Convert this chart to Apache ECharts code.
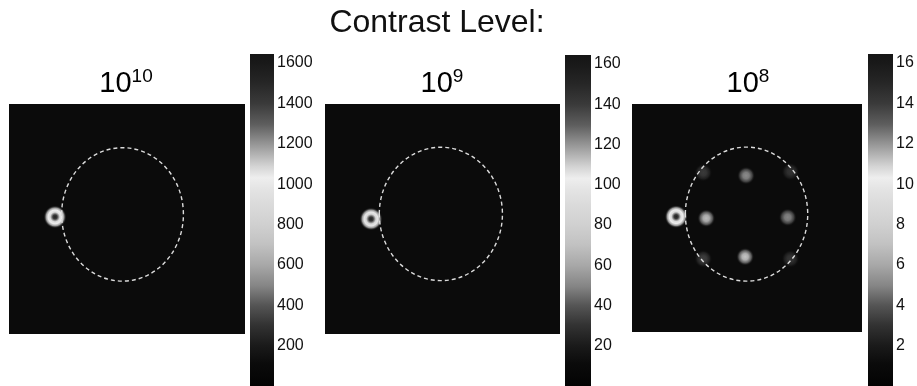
<!DOCTYPE html>
<html><head><meta charset="utf-8">
<script src="https://cdn.jsdelivr.net/npm/echarts@6/dist/echarts.min.js"></script>
<style>html,body{margin:0;padding:0;background:#fff}#c{width:917px;height:386px}</style>
</head><body><div id="c"></div>
<script>
// ---------- data ----------
const mainTitle = 'Contrast Level:';
const panelBase = '10';
const panelExponents = ['10', '9', '8'];
const cbTicks1 = [200, 400, 600, 800, 1000, 1200, 1400, 1600];
const cbTicks2 = [20, 40, 60, 80, 100, 120, 140, 160];
const cbTicks3 = [2, 4, 6, 8, 10, 12, 14, 16];
const cbMax = [1645, 164.5, 16.45];
// dashed circle: [cx, cy, rx, ry] in image units (0..100, y downwards)
const circle1 = [48.1, 48.0, 25.8, 29.0];
const circle2 = [49.3, 47.8, 26.2, 29.0];
const circle3 = [49.8, 48.3, 26.6, 29.4];
// ring-shaped source: [x, y, brightness]
const ring1 = [19.5, 49.1, 1.0];
const ring2 = [19.6, 50.0, 0.97];
const ring3 = [19.2, 49.4, 1.0];
// speckles visible in the 10^8 panel: [x, y, brightness]
const blobs3 = [
  [49.6, 31.4, 0.55], [49.2, 67.0, 0.80], [32.3, 50.1, 0.76], [67.7, 49.7, 0.52],
  [31.0, 30.1, 0.20], [68.9, 29.7, 0.17], [31.0, 67.9, 0.22], [68.9, 67.9, 0.18]
];

// ---------- styles / layout ----------
const FONT = 'Liberation Sans, Arial, sans-serif';
const BG = '#0b0b0b';
// grey colormap of the colorbars (fraction of top tick -> grey)
const cmap = [
  [0.00, '#030303'], [0.07, '#0b0b0b'], [0.125, '#1a1a1a'], [0.19, '#333333'],
  [0.25, '#555555'], [0.31, '#858585'], [0.375, '#a8a8a8'], [0.44, '#c2c2c2'],
  [0.50, '#d0d0d0'], [0.56, '#dadada'], [0.61, '#e4e4e4'], [0.645, '#eeeeee'],
  [0.68, '#d4d4d4'], [0.72, '#b0b0b0'], [0.76, '#8c8c8c'], [0.81, '#5e5e5e'],
  [0.875, '#3a3a3a'], [0.94, '#262626'], [1.00, '#191919']
];
const imgGrids = [
  {left: 9, top: 104, width: 236, height: 230},
  {left: 325, top: 104, width: 235, height: 230},
  {left: 632, top: 104, width: 230, height: 228}
];
const cbGrids = [
  {left: 250, top: 54, width: 24, height: 332},
  {left: 565, top: 55, width: 26, height: 331},
  {left: 868, top: 54, width: 25, height: 332}
];
const cbTicks = [cbTicks1, cbTicks2, cbTicks3];
const circles = [circle1, circle2, circle3];
const rings = [ring1, ring2, ring3];
const titleX = [126, 442, 748];

function grey(b, a) {
  const v = Math.round(11 + (244 - 11) * Math.max(0, Math.min(1, b)));
  return a === undefined ? `rgb(${v},${v},${v})` : `rgba(${v},${v},${v},${a})`;
}
function ringColor(p) {
  const b = p.value[2];
  return new echarts.graphic.RadialGradient(0.5, 0.5, 0.5, [
    {offset: 0, color: grey(0.08)}, {offset: 0.18, color: grey(0.2 * b)},
    {offset: 0.42, color: grey(0.9 * b)}, {offset: 0.6, color: grey(0.97 * b)},
    {offset: 0.78, color: grey(0.6 * b)}, {offset: 1, color: grey(0, 0)}
  ]);
}
function blobColor(p) {
  const b = p.value[2];
  return new echarts.graphic.RadialGradient(0.5, 0.5, 0.5, [
    {offset: 0, color: grey(b)}, {offset: 0.35, color: grey(0.88 * b)},
    {offset: 0.7, color: grey(0.4 * b)}, {offset: 1, color: grey(0, 0)}
  ]);
}

const grid = [], xAxis = [], yAxis = [], series = [], graphic = [];

graphic.push({type: 'text', x: 437, y: 7, style: {text: mainTitle, font: '32px ' + FONT,
  fill: '#111', align: 'center', verticalAlign: 'top'}});

for (let i = 0; i < 3; i++) {
  // ---- image panel ----
  grid.push(Object.assign({show: true, backgroundColor: BG, borderWidth: 0}, imgGrids[i]));
  const gi = grid.length - 1;
  xAxis.push({gridIndex: gi, type: 'value', min: 0, max: 100, show: false});
  yAxis.push({gridIndex: gi, type: 'value', min: 0, max: 100, inverse: true, show: false});
  const ax = xAxis.length - 1, ay = yAxis.length - 1;
  if (i === 2) {
    series.push({type: 'scatter', xAxisIndex: ax, yAxisIndex: ay, data: blobs3, symbolSize: 18,
      silent: true, itemStyle: {color: blobColor, opacity: 1}, z: 2});
  }
  series.push({type: 'scatter', xAxisIndex: ax, yAxisIndex: ay, data: [rings[i]], symbolSize: 23,
    silent: true, itemStyle: {color: ringColor, opacity: 1}, z: 3});
  series.push({type: 'custom', xAxisIndex: ax, yAxisIndex: ay, data: [circles[i]], silent: true, z: 4,
    renderItem: function (params, api) {
      const c = api.coord([api.value(0), api.value(1)]);
      const s = api.size([api.value(2), api.value(3)]);
      return {type: 'ellipse', shape: {cx: c[0], cy: c[1], rx: Math.abs(s[0]), ry: Math.abs(s[1])},
        style: {fill: null, stroke: '#dcdcdc', lineWidth: 1.4, lineDash: [4, 3]}};
    }});
  graphic.push({type: 'text', x: titleX[i], y: 67, style: {
    text: '{b|' + panelBase + '}{s|' + panelExponents[i] + '}', align: 'center', verticalAlign: 'top',
    rich: {b: {fontSize: 29, fontFamily: FONT, lineHeight: 34, color: '#111'},
           s: {fontSize: 19, fontFamily: FONT, lineHeight: 19, verticalAlign: 'top', color: '#111'}}}});

  // ---- colorbar ----
  grid.push(Object.assign({show: false}, cbGrids[i]));
  const gc = grid.length - 1;
  xAxis.push({gridIndex: gc, type: 'category', data: ['cb'], show: false, boundaryGap: true});
  const cx = xAxis.length - 1;
  const ticks = cbTicks[i];
  const step = ticks[1] - ticks[0];
  const top = ticks[ticks.length - 1];
  const common = {gridIndex: gc, type: 'value', min: 0, max: cbMax[i], interval: step,
    splitLine: {show: false}, axisLine: {show: false}};
  yAxis.push(Object.assign({}, common, {position: 'right',
    axisTick: {show: true, inside: true, length: 4, lineStyle: {color: '#3a3a3a', width: 1.2}, customValues: ticks},
    axisLabel: {show: true, margin: 3, fontSize: 16, fontFamily: FONT, color: '#111', customValues: ticks,
      formatter: v => String(v)}}));
  const cyR = yAxis.length - 1;
  yAxis.push(Object.assign({}, common, {position: 'left',
    axisTick: {show: true, inside: true, length: 4, lineStyle: {color: '#3a3a3a', width: 1.2}, customValues: ticks},
    axisLabel: {show: false}}));
  const stops = cmap.map(s => ({offset: Math.min(1, s[0] * top / cbMax[i]), color: s[1]}));
  stops.push({offset: 1, color: '#151515'});
  series.push({type: 'bar', xAxisIndex: cx, yAxisIndex: cyR, data: [cbMax[i]], barWidth: '100%',
    silent: true, z: 1,
    itemStyle: {color: new echarts.graphic.LinearGradient(0, 1, 0, 0, stops)}});
}

const chart = echarts.init(document.getElementById('c'), null, {renderer: 'canvas'});
chart.setOption({animation: false, backgroundColor: '#fff', grid, xAxis, yAxis, series, graphic});
</script></body></html>
